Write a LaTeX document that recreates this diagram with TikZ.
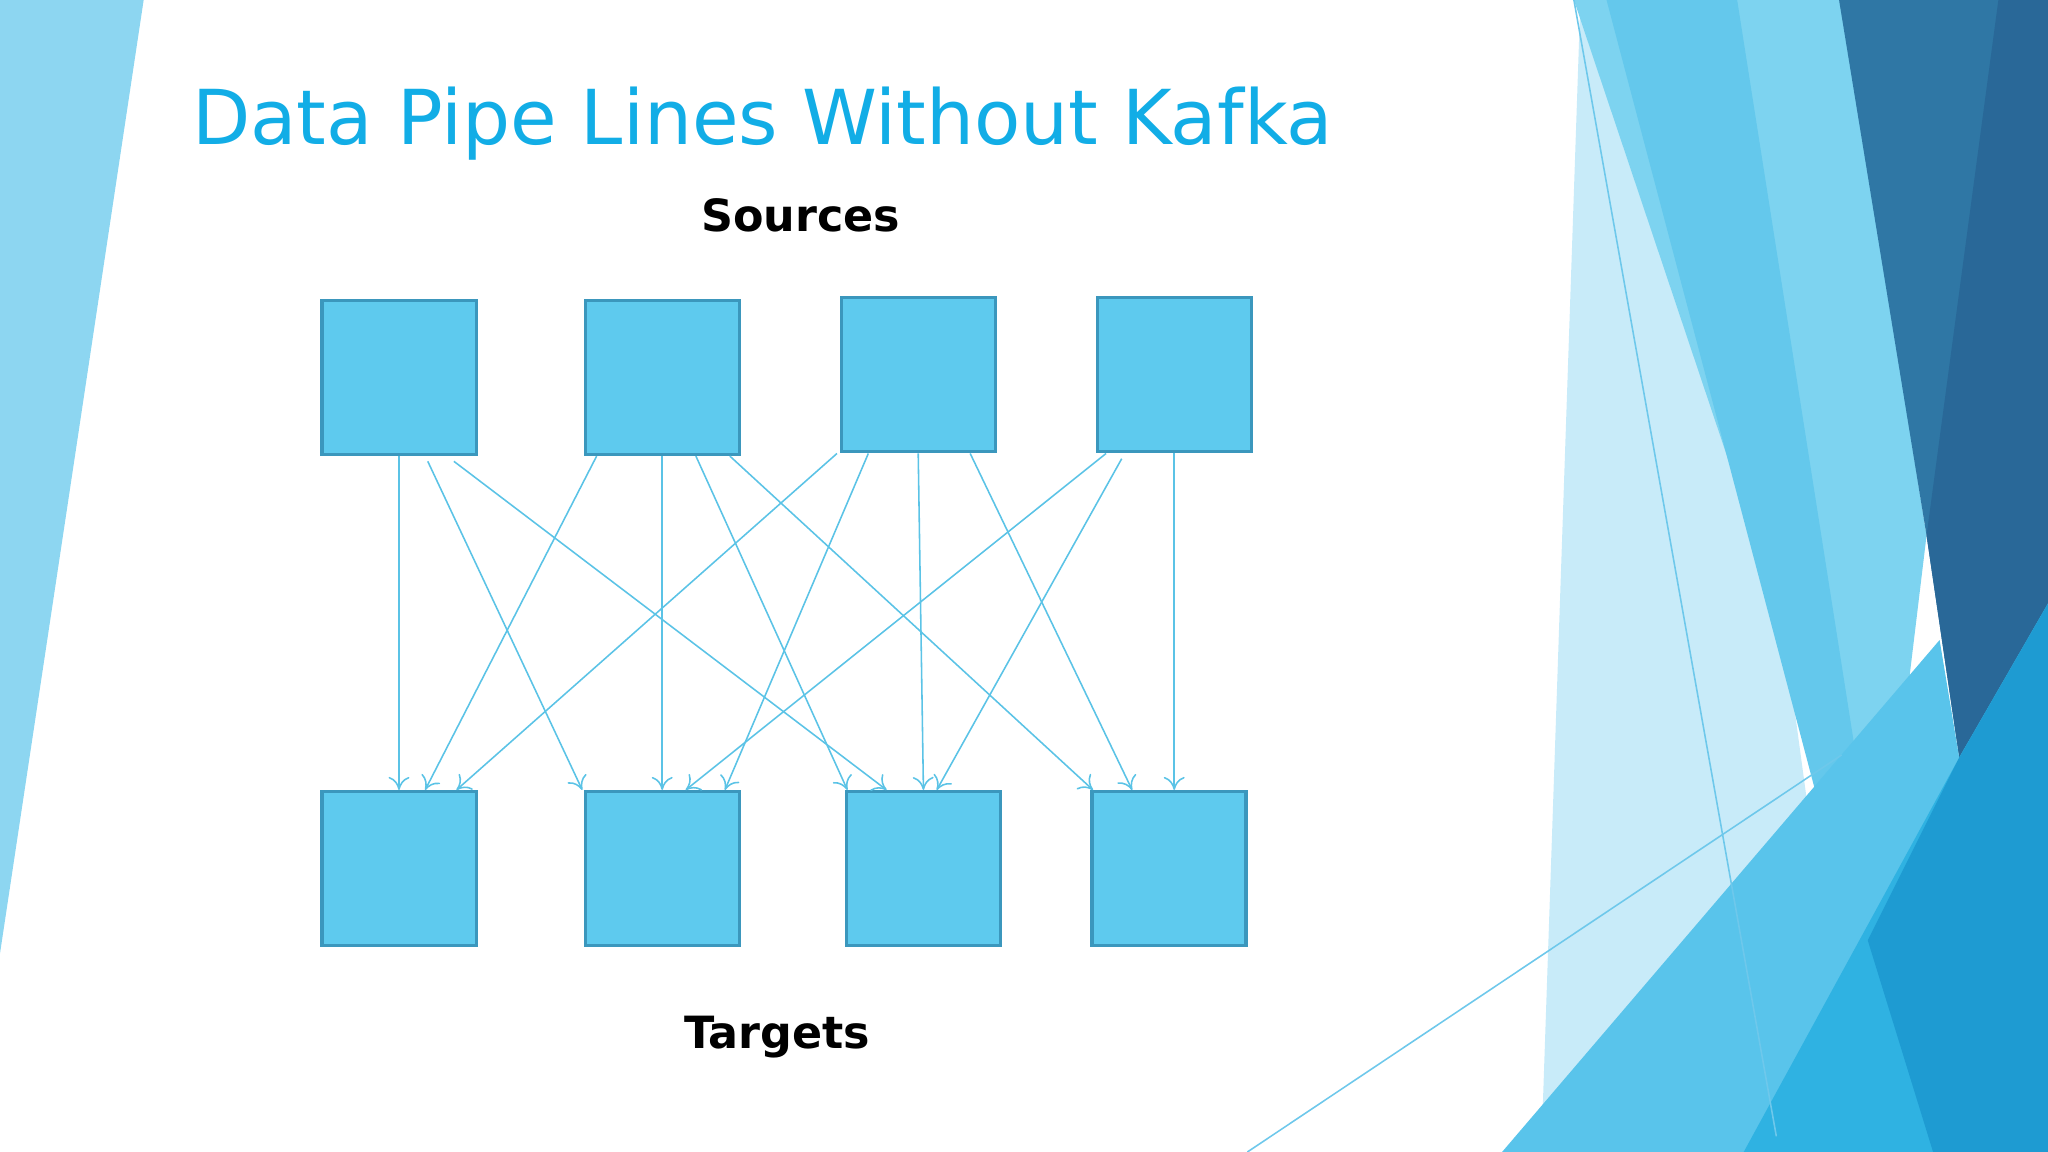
\documentclass[tikz,border=0pt]{standalone}
\usepackage{fontspec}
\setmainfont{DejaVu Sans}
\usetikzlibrary{arrows.meta}
\begin{document}
\begin{tikzpicture}[x=0.5pt,y=-0.5pt,
  box/.style={draw=boxline,fill=boxfill,line width=1.2pt,minimum width=59pt,minimum height=59pt,inner sep=0pt},
  link/.style={draw=linkc,line width=0.6pt,-{To[length=5pt,width=8pt]}}]
\definecolor{boxfill}{HTML}{5ECAEE}
\definecolor{boxline}{HTML}{3B97BD}
\definecolor{linkc}{HTML}{5BC3E6}
\definecolor{titlec}{HTML}{12ADE6}
\useasboundingbox (0,0) rectangle (1568,882);
% background decoration
\fill[color={rgb,255:red,141;green,214;blue,241}] (0,0)--(110,0)--(0,730)--cycle;
\fill[color={rgb,255:red,200;green,235;blue,249}] (1210,0)--(1300,0)--(1420,882)--(1180,882)--cycle;
\fill[color={rgb,255:red,125;green,211;blue,240}] (1205,0)--(1410,0)--(1475,410)--(1440,700)--cycle;
\fill[color={rgb,255:red,100;green,200;blue,236}] (1230,0)--(1330,0)--(1440,700)--(1420,720)--cycle;
\fill[color={rgb,255:red,47;green,119;blue,165}] (1408,0)--(1568,0)--(1568,462)--(1500,580)--(1475,410)--cycle;
\fill[color={rgb,255:red,41;green,104;blue,152}] (1530,0)--(1568,0)--(1568,462)--(1500,580)--(1475,410)--cycle;
\fill[color={rgb,255:red,89;green,196;blue,235}] (1150,882)--(1485,490)--(1500,580)--(1430,720)--(1400,882)--cycle;
\fill[color={rgb,255:red,47;green,178;blue,226}] (1335,882)--(1500,580)--(1568,462)--(1568,882)--cycle;
\fill[color={rgb,255:red,30;green,155;blue,210}] (1430,720)--(1500,580)--(1568,462)--(1568,882)--(1480,882)--cycle;
\draw[color={rgb,255:red,110;green,200;blue,235},line width=0.6pt] (1205,0)--(1360,870);
\draw[color={rgb,255:red,110;green,200;blue,235},line width=0.6pt] (955,882)--(1410,578);
% texts
\node[anchor=west,text=titlec,font=\fontsize{29}{34}\selectfont] (title) at (140,95) {Data Pipe Lines Without Kafka};
\node[font=\bfseries\fontsize{17}{20}\selectfont] (src) at (613,165) {Sources};
\node[font=\bfseries\fontsize{17}{20}\selectfont] (tgt) at (595,794) {Targets};
% boxes
\node[box] (s1) at (305.5,289) {};
\node[box] (s2) at (507,289) {};
\node[box] (s3) at (703,287) {};
\node[box] (s4) at (899,287) {};
\node[box] (t1) at (305.5,665) {};
\node[box] (t2) at (507,665) {};
\node[box] (t3) at (707,665) {};
\node[box] (t4) at (895,665) {};
% links
\draw[link] (s1.south) -- (t1.north);
\draw[link] ([xshift=11pt,yshift=-2pt]s1.south) -- ([xshift=-0.5pt]t2.north west);
\draw[link] ([xshift=21pt,yshift=-2pt]s1.south) -- ([xshift=16pt]t3.north west);
\draw[link] ([xshift=5pt]s2.south west) -- ([xshift=10pt]t1.north);
\draw[link] (s2.south) -- (t2.north);
\draw[link] ([xshift=43pt]s2.south west) -- ([xshift=1pt]t3.north west);
\draw[link] ([xshift=56pt]s2.south west) -- ([xshift=1pt]t4.north west);
\draw[link] ([xshift=-1pt]s3.south west) -- ([xshift=22pt]t1.north);
\draw[link] ([xshift=11pt]s3.south west) -- ([xshift=24pt]t2.north);
\draw[link] (s3.south) -- (t3.north);
\draw[link] ([xshift=50pt]s3.south west) -- ([xshift=16pt]t4.north west);
\draw[link] ([xshift=4pt]s4.south west) -- ([xshift=9pt]t2.north);
\draw[link] ([xshift=10pt,yshift=-2pt]s4.south west) -- ([xshift=-25pt]t3.north east);
\draw[link] (s4.south) -- (t4.north -| s4.south);
\end{tikzpicture}
\end{document}
